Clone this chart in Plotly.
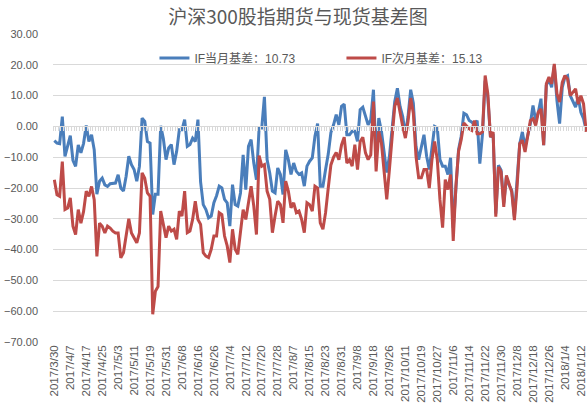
import plotly.graph_objects as go

dates = """2017/3/30 2017/3/31 2017/4/3 2017/4/4 2017/4/5 2017/4/6 2017/4/7 2017/4/10 2017/4/11 2017/4/12
2017/4/13 2017/4/14 2017/4/17 2017/4/18 2017/4/19 2017/4/20 2017/4/21 2017/4/24 2017/4/25 2017/4/26
2017/4/27 2017/4/28 2017/5/1 2017/5/2 2017/5/3 2017/5/4 2017/5/5 2017/5/8 2017/5/9 2017/5/10
2017/5/11 2017/5/12 2017/5/15 2017/5/16 2017/5/17 2017/5/18 2017/5/19 2017/5/22 2017/5/23 2017/5/24
2017/5/25 2017/5/26 2017/5/31 2017/6/1 2017/6/2 2017/6/5 2017/6/6 2017/6/7 2017/6/8 2017/6/9
2017/6/12 2017/6/13 2017/6/14 2017/6/15 2017/6/16 2017/6/19 2017/6/20 2017/6/21 2017/6/22 2017/6/23
2017/6/26 2017/6/27 2017/6/28 2017/6/29 2017/6/30 2017/7/3 2017/7/4 2017/7/5 2017/7/6 2017/7/7
2017/7/10 2017/7/11 2017/7/12 2017/7/13 2017/7/14 2017/7/17 2017/7/18 2017/7/19 2017/7/20 2017/7/21
2017/7/24 2017/7/25 2017/7/26 2017/7/27 2017/7/28 2017/7/31 2017/8/1 2017/8/2 2017/8/3 2017/8/4
2017/8/7 2017/8/8 2017/8/9 2017/8/10 2017/8/11 2017/8/14 2017/8/15 2017/8/16 2017/8/17 2017/8/18
2017/8/21 2017/8/22 2017/8/23 2017/8/24 2017/8/25 2017/8/28 2017/8/29 2017/8/30 2017/8/31 2017/9/1
2017/9/4 2017/9/5 2017/9/6 2017/9/7 2017/9/8 2017/9/11 2017/9/12 2017/9/13 2017/9/14 2017/9/15
2017/9/18 2017/9/19 2017/9/20 2017/9/21 2017/9/22 2017/9/25 2017/9/26 2017/9/27 2017/9/28 2017/9/29
2017/10/9 2017/10/10 2017/10/11 2017/10/12 2017/10/13 2017/10/16 2017/10/17 2017/10/18 2017/10/19 2017/10/20
2017/10/23 2017/10/24 2017/10/25 2017/10/26 2017/10/27 2017/10/30 2017/10/31 2017/11/1 2017/11/2 2017/11/3
2017/11/6 2017/11/7 2017/11/8 2017/11/9 2017/11/10 2017/11/13 2017/11/14 2017/11/15 2017/11/16 2017/11/17
2017/11/20 2017/11/21 2017/11/22 2017/11/23 2017/11/24 2017/11/27 2017/11/28 2017/11/29 2017/11/30 2017/12/1
2017/12/4 2017/12/5 2017/12/6 2017/12/7 2017/12/8 2017/12/11 2017/12/12 2017/12/13 2017/12/14 2017/12/15
2017/12/18 2017/12/19 2017/12/20 2017/12/21 2017/12/22 2017/12/25 2017/12/26 2017/12/27 2017/12/28 2017/12/29
2018/1/2 2018/1/3 2018/1/4 2018/1/5 2018/1/8 2018/1/9 2018/1/10 2018/1/11 2018/1/12 2018/1/15
2018/1/16""".split()

if_current = [
    -4.6, -5.4, -5.6, 3.2, -9.7, -6.5, -3.0, -11.0, -13.0, -6.0,
    -8.6, -5.5, 0.3, -4.9, -2.7, -7.6, -22.0, -17.8, -16.8, -19.0,
    -19.5, -18.6, -18.6, -18.4, -15.7, -20.0, -21.0, -16.2, -9.7, -12.4,
    -14.0, -17.8, -13.0, 2.7, 1.6, -4.9, -5.4, -28.6, -22.0, -22.0,
    0.2, -4.0, -10.8, -7.0, -5.9, -12.4, -8.1, -1.1, -1.1, 2.2,
    -6.5, -5.9, -3.8, -4.9, 2.2, -18.0, -25.4, -27.0, -29.7, -29.1,
    -24.8, -22.5, -19.4, -20.0, -23.7, -24.8, -32.4, -18.9, -25.4, -25.9,
    -21.6, -9.2, -20.5, -6.5, -4.3, -11.9, -17.3, -0.5, -0.5, 9.6,
    -10.8, -15.1, -21.0, -21.6, -13.5, -15.6, -22.1, -7.6, -10.8, -15.6,
    -11.9, -14.6, -15.6, -15.1, -19.4, -12.9, -11.3, -10.2, -3.2, 0.9,
    -19.4, -19.4, -14.0, -9.0, -2.0, 0.5, 3.8, 0.5, 6.5, 7.2,
    -2.7, -2.7, -1.6, -1.6, -4.9, 5.4, 6.2, 3.0, 0.5, 2.2,
    11.9, -11.0, 2.7, -1.6, -8.1, -15.0, -9.7, 0.0, 8.0, 12.4,
    6.5, 3.2, -2.7, 3.2, 11.9, 7.5, -6.5, -10.8, -6.5, -2.7,
    -9.7, -14.0, -7.0, 0.0, -0.5, -10.8, -12.9, -12.9, -15.6, -10.2,
    -33.0, -19.4, -7.6, -3.2, 4.3, 3.8, 1.9, 1.4, 0.3, 1.9,
    -12.1, -2.4, 14.9, 9.5, -3.5, -2.4, -28.3, -12.6, -14.2, -25.0,
    -16.4, -19.1, -20.7, -29.3, -17.5, -5.6, -1.8, -6.7, -2.9, 0.9,
    6.8, 1.9, 4.6, 9.0, -6.1, 13.3, 15.4, 12.7, 19.7, 8.4,
    0.9, 12.7, 16.0, 16.5, 10.0, 7.9, 6.3, 9.5, 4.6, 2.5,
    -1.3,
]

if_next = [
    -17.3, -22.2, -22.7, -11.4, -27.0, -26.5, -23.2, -32.4, -35.1, -27.0,
    -31.4, -27.6, -21.0, -22.7, -19.5, -23.8, -42.2, -31.4, -32.4, -34.6,
    -32.4, -33.0, -34.0, -34.6, -34.6, -42.7, -41.0, -34.6, -30.0, -34.6,
    -36.2, -37.8, -34.6, -15.1, -16.8, -21.6, -22.7, -61.0, -53.5, -52.0,
    -27.5, -31.3, -36.1, -32.4, -34.0, -33.4, -36.7, -27.5, -29.1, -21.0,
    -34.5, -34.0, -30.2, -24.3, -30.2, -31.8, -41.0, -42.1, -42.6, -39.9,
    -35.6, -35.6, -28.0, -28.6, -35.6, -38.8, -44.2, -33.4, -39.9, -41.5,
    -34.5, -27.0, -30.2, -24.8, -19.4, -25.9, -35.1, -9.5, -12.9, -12.4,
    -21.0, -23.7, -34.5, -29.1, -24.3, -25.4, -31.3, -17.8, -21.0, -26.4,
    -24.8, -28.0, -27.5, -30.2, -34.5, -24.8, -25.4, -27.5, -19.4, -20.0,
    -31.3, -33.4, -28.0, -20.0, -12.5, -10.0, -8.5, -10.8, -6.0, -3.5,
    -11.9, -10.8, -12.9, -5.9, -14.0, -4.9, -3.5, -8.6, -10.8, -9.2,
    8.1, -14.6, -1.6, -5.4, -14.0, -23.7, -14.0, -4.3, 6.5, 9.2,
    4.3, 0.0, -3.8, 1.6, 9.2, 4.3, -9.7, -16.7, -16.7, -14.0,
    -14.0, -20.0, -10.8, -4.9, -10.8, -23.7, -32.9, -17.3, -20.5, -15.6,
    -37.2, -19.4, -8.1, -4.3, 1.1, 0.0, -0.8, -1.3, 1.9, -2.4,
    -2.4, -1.8, 16.5, 10.6, -3.5, -1.8, -29.3, -13.2, -14.8, -26.1,
    -15.9, -18.6, -21.3, -30.4, -19.6, -5.6, -4.5, -8.3, -2.9, 1.9,
    2.5, 0.3, 4.6, 5.7, -6.1, 13.8, 16.0, 13.8, 20.3, 10.6,
    7.9, 14.3, 16.5, 15.4, 10.0, 11.1, 12.2, 7.3, 10.0, 7.3,
    -1.8,
]

series_names = ["IF当月基差：10.73", "IF次月基差：15.13"]
tick_labels = dates[::6]
y_ticks = [30, 20, 10, 0, -10, -20, -30, -40, -50, -60, -70]

BLUE = "#4A7EBB"
RED = "#BE4B48"
GRID = "#D9D9D9"
TXT = "#595959"
FONT = "Liberation Sans, Arial, Noto Sans CJK SC, sans-serif"

fig = go.Figure()
# invisible helper trace on the overlaid axis that draws the category tick marks at y = 0
fig.add_trace(go.Scatter(x=dates, y=if_current, xaxis="x2", mode="lines",
                         line=dict(width=0), hoverinfo="skip", showlegend=False, opacity=0))
fig.add_trace(go.Scatter(x=dates, y=if_current, name=series_names[0], mode="lines",
                         line=dict(color=BLUE, width=3)))
fig.add_trace(go.Scatter(x=dates, y=if_next, name=series_names[1], mode="lines",
                         line=dict(color=RED, width=3)))

W, H = 587, 409
fig.update_layout(
    width=W, height=H,
    margin=dict(l=53, r=0, t=34, b=67),
    paper_bgcolor="white", plot_bgcolor="white",
    font=dict(family=FONT, color=TXT, size=11),
    title=dict(text="沪深300股指期货与现货基差图", x=298 / W, xref="container", xanchor="center",
               y=1 - 17 / H, yref="container", yanchor="middle",
               font=dict(family="Noto Sans CJK SC, sans-serif", size=19, color=TXT)),
    legend=dict(orientation="h", x=0.19, xanchor="left", y=0.922, yanchor="middle",
                font=dict(size=12, color=TXT, family=FONT),
                bgcolor="rgba(0,0,0,0)", entrywidth=142, entrywidthmode="pixels"),
    xaxis=dict(type="category", range=[-0.5, 200.3], showgrid=False, showline=False,
               zeroline=False, tickmode="array", tickvals=tick_labels, ticktext=tick_labels,
               tickangle=-90, ticks="", tickfont=dict(size=11.5, color=TXT)),
    xaxis2=dict(type="category", overlaying="x", matches="x", anchor="free", position=0.7,
                side="bottom", showline=True, linecolor=GRID, linewidth=1,
                ticks="outside", ticklen=4, tickcolor=GRID, tickwidth=1,
                tickmode="linear", tick0=0, dtick=1, tickson="boundaries",
                showticklabels=False, showgrid=False, zeroline=False),
    yaxis=dict(range=[-70, 30], tickvals=y_ticks, tickformat=".2f", showgrid=True,
               gridcolor=GRID, gridwidth=1, zeroline=False, showline=False,
               ticklabelstandoff=14, tickfont=dict(size=11, color=TXT)),
)

fig.write_html("out.html", config={"displayModeBar": False},
               post_script="document.body.style.margin='0px';document.body.style.overflow='hidden';")
